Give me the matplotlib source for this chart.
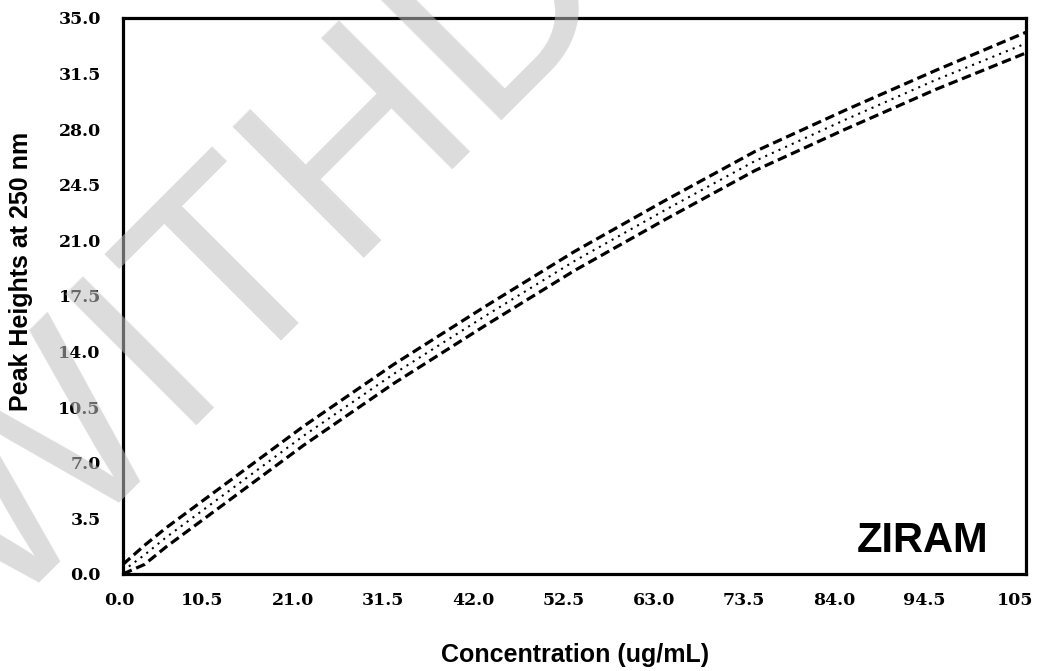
import matplotlib.pyplot as plt
import matplotlib.transforms as mtransforms

# calibration data
conc = [0, 2.5, 5, 10.5, 21, 31.5, 42, 52.5, 63, 73.5, 84, 94.5, 105]
peak_mean = [0.2, 1.2, 2.3, 4.5, 8.7, 12.6, 16.2, 19.7, 22.9, 26.0, 28.6, 31.1, 33.4]
peak_upper = [0.6, 1.8, 2.9, 5.1, 9.3, 13.2, 16.8, 20.3, 23.5, 26.6, 29.2, 31.7, 34.1]
peak_lower = [0.0, 0.6, 1.7, 3.9, 8.1, 12.0, 15.6, 19.1, 22.3, 25.4, 28.0, 30.5, 32.8]

x_ticks = [0, 10.5, 21, 31.5, 42, 52.5, 63, 73.5, 84, 94.5, 105]
x_labels = ['0.0', '10.5', '21.0', '31.5', '42.0', '52.5', '63.0', '73.5', '84.0', '94.5', '105']
y_ticks = [0, 3.5, 7, 10.5, 14, 17.5, 21, 24.5, 28, 31.5, 35]
y_labels = ['0.0', '3.5', '7.0', '10.5', '14.0', '17.5', '21.0', '24.5', '28.0', '31.5', '35.0']

fig = plt.figure(figsize=(10.37, 6.71), dpi=100)
ax = fig.add_axes([0.1186, 0.1446, 0.8708, 0.8286])

# band of lines
ax.plot(conc, peak_upper, color='black', linestyle=(0, (3, 1.5)), linewidth=2.3)
ax.plot(conc, peak_lower, color='black', linestyle=(0, (3, 1.5)), linewidth=2.3)
ax.plot(conc, peak_mean, color='black', linestyle=(0, (1, 2.5)), linewidth=1.5)

ax.set_xlim(0, 105)
ax.set_ylim(0, 35)
ax.set_xticks(x_ticks)
ax.set_xticklabels(x_labels)
ax.set_yticks(y_ticks)
ax.set_yticklabels(y_labels)
ax.tick_params(length=0)
ax.tick_params(axis='x', pad=13)
ax.tick_params(axis='y', pad=16)
for lab in ax.get_xticklabels() + ax.get_yticklabels():
    lab.set_family('DejaVu Serif')
    lab.set_fontweight('bold')
    lab.set_fontsize(12.5)

# x tick labels sit a little left of their ticks in the original
for i, lab in enumerate(ax.get_xticklabels()):
    dx = -0.04 if i == 0 else -0.11
    lab.set_transform(lab.get_transform() + mtransforms.ScaledTranslation(dx, 0, fig.dpi_scale_trans))

for sp in ax.spines.values():
    sp.set_linewidth(2.3)
    sp.set_color('black')

ax.set_xlabel('Concentration (ug/mL)', family='Liberation Sans', fontweight='bold', fontsize=18)
ax.set_ylabel('Peak Heights at 250 nm', family='Liberation Sans', fontweight='bold', fontsize=18)
ax.xaxis.set_label_coords(0.5006, -0.125)
ax.yaxis.set_label_coords(-0.0997, 0.545)

ax.text(0.958, 0.040, 'ZIRAM', transform=ax.transAxes, ha='right', va='baseline',
        family='Liberation Sans', fontweight='bold', fontsize=30)

# watermark
fig.text(0.0, 0.075, 'WITHDRAWN', rotation=45, rotation_mode='anchor', ha='left', va='baseline',
         family='Liberation Sans', fontsize=194, color='#c0c0c0', alpha=0.55)

fig.savefig('out.png', dpi=100)
